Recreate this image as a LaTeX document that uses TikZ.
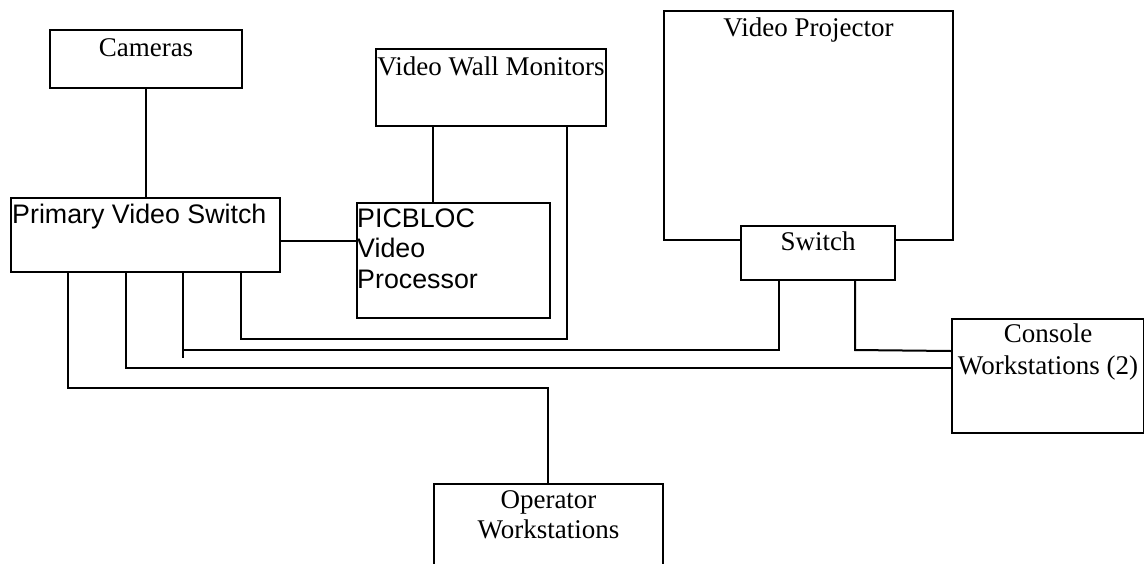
\documentclass[tikz,border=0pt]{standalone}
\usepackage{fontspec}
\setmainfont{Liberation Serif}
\newfontfamily\arialf{Liberation Sans}
\begin{document}
\begin{tikzpicture}[x=1pt,y=-1pt,
  box/.style={draw=black, line width=2pt, fill=white, rectangle, inner sep=0pt, anchor=north west},
  wire/.style={draw=black, line width=2pt},
  serif/.style={font=\fontsize{27}{31}\selectfont, inner sep=0pt, align=center},
  sans/.style={font=\arialf\fontsize{26.8}{30.5}\selectfont, inner sep=0pt, align=left}]
\useasboundingbox (0,0) rectangle (1144,563);
\clip (0,0) rectangle (1144,563);
% boxes
\node[box, minimum width=192pt, minimum height=58pt] (cam) at (49,29) {};
\node[box, minimum width=230pt, minimum height=77pt] (vwm) at (375,48) {};
\node[box, minimum width=269pt, minimum height=74pt] (pvs) at (10,197) {};
\node[box, minimum width=193pt, minimum height=115pt] (pic) at (356,202) {};
\node[box, minimum width=289pt, minimum height=229pt] (proj) at (663,10) {};
\node[box, minimum width=154pt, minimum height=54pt] (sw) at (740,225) {};
\node[box, minimum width=192pt, minimum height=114pt] (con) at (951,318) {};
\node[box, minimum width=229pt, minimum height=120pt] (op) at (433,483) {};
% texts
\node[serif, anchor=base] (camt) at ([yshift=-27pt]cam.north) {Cameras};
\node[serif, anchor=base] (vwmt) at ([yshift=-27pt]vwm.north) {Video Wall Monitors};
\node[sans, anchor=base west] (pvst) at ([xshift=2pt,yshift=-26pt]pvs.north west) {Primary Video Switch};
\node[sans, anchor=base west] (pict) at ([xshift=1pt,yshift=-86pt]pic.north west) {PICBLOC\\Video\\Processor};
\node[serif, anchor=base] (projt) at ([yshift=-26pt]proj.north) {Video Projector};
\node[serif, anchor=base] (swt) at ([yshift=-25pt]sw.north) {Switch};
\node[serif, anchor=base, font=\fontsize{27}{32}\selectfont] (cont) at ([yshift=-56pt]con.north) {Console\\Workstations (2)};
\node[serif, anchor=base, font=\fontsize{27}{30}\selectfont] (opt) at ([yshift=-55pt]op.north) {Operator\\Workstations};
% connectors
\draw[wire] (cam.south) -- (cam.south |- pvs.north);
\draw[wire] ([xshift=58pt]vwm.south west) -- ([xshift=58pt]vwm.south west |- pic.north);
\draw[wire] ([yshift=-6pt]pvs.east) coordinate (pe) -- (pe -| pic.west);
\draw[wire] ([xshift=231pt]pvs.south west) -- ++(0,66) -| ([xshift=192pt]vwm.south west);
\draw[wire] ([xshift=173pt]pvs.south west) -- ++(0,85);
\draw[wire] ([xshift=173pt]pvs.south west) ++(0,77) -| ([xshift=39pt]sw.south west);
\draw[wire] ([xshift=116pt]pvs.south west) |- ([yshift=-50pt]con.north west);
\draw[wire] ([xshift=115pt]sw.south west) -- ++(0,69) -- ([yshift=-33pt]con.north west);
\draw[wire] ([xshift=58pt]pvs.south west) -- ++(0,115) -| ([xshift=115pt]op.north west);
\end{tikzpicture}
\end{document}
